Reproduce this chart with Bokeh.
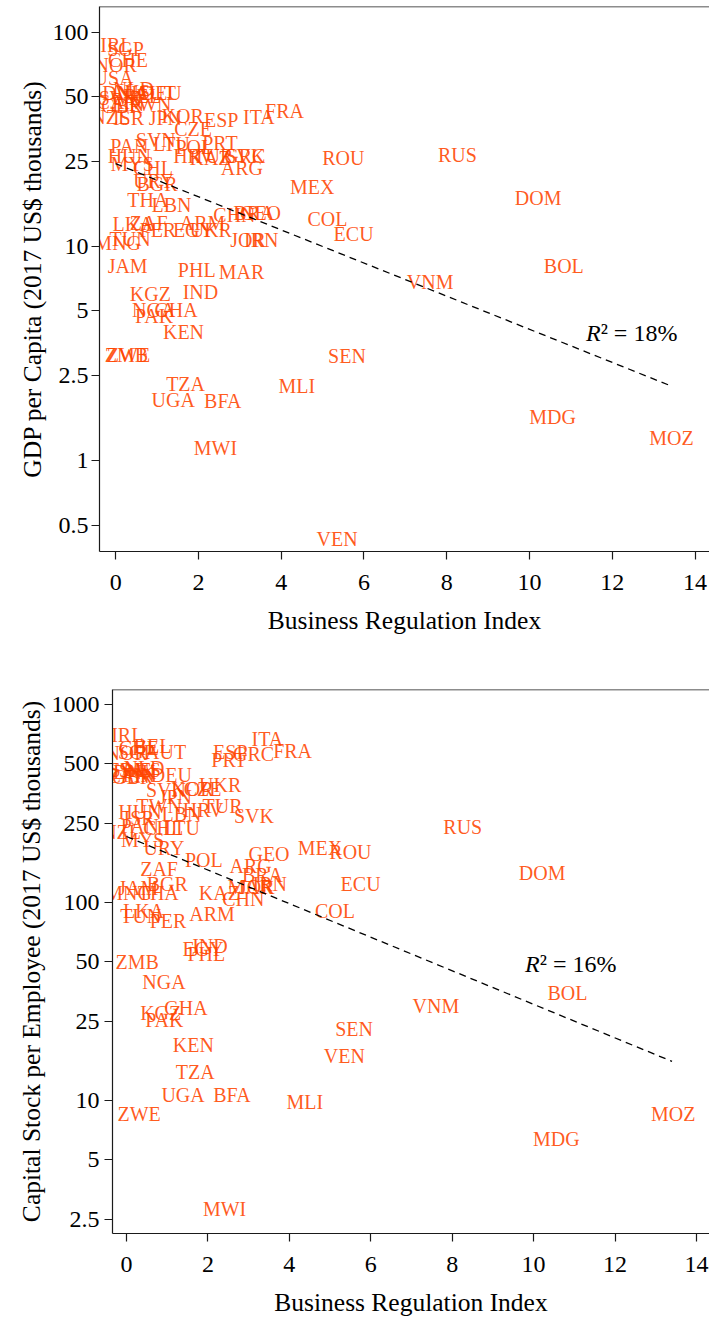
from bokeh.plotting import figure
from bokeh.layouts import column, row
from bokeh.models import FixedTicker, Span, ColumnDataSource, Range1d
from bokeh.core.properties import value
from bokeh.embed import file_html
from bokeh.resources import INLINE

countries = ["IRL", "SGP", "CHE", "NOR", "USA", "NLD", "AUT", "BEL", "DEU", "DNK",
             "SWE", "AUS", "FIN", "CAN", "GBR", "TWN", "NZL", "ISR", "JPN", "KOR",
             "CZE", "ESP", "PRT", "GRC", "ITA", "FRA", "SVN", "LTU", "POL", "PAN",
             "HUN", "HRV", "TUR", "SVK", "KAZ", "ARG", "RUS", "ROU", "MYS", "CHL",
             "URY", "BGR", "MEX", "DOM", "THA", "LBN", "CHN", "BRA", "GEO", "COL",
             "ECU", "LKA", "ZAF", "ARM", "PER", "EGY", "UKR", "TUN", "MNG", "JOR",
             "IRN", "JAM", "PHL", "MAR", "VNM", "BOL", "KGZ", "IND", "NGA", "GHA",
             "PAK", "KEN", "ZMB", "ZWE", "SEN", "TZA", "MLI", "UGA", "BFA", "MDG",
             "MOZ", "MWI", "VEN"]

business_regulation = [0.02, 0.24, 0.30, 0.00, -0.05, 0.43, 0.96, 0.64, 1.10, 0.20,
                       0.10, 0.35, 0.30, 0.05, 0.15, 0.80, -0.12, 0.31, 1.20, 1.62,
                       1.87, 2.55, 2.52, 3.12, 3.46, 4.08, 0.97, 1.35, 1.90, 0.33,
                       0.33, 1.88, 2.36, 3.13, 2.28, 3.05, 8.26, 5.50, 0.40, 0.90,
                       0.92, 1.00, 4.75, 10.21, 0.78, 1.35, 2.87, 3.34, 3.50, 5.12,
                       5.75, 0.42, 0.80, 2.10, 1.02, 1.88, 2.30, 0.35, 0.05, 3.20,
                       3.52, 0.29, 1.96, 3.04, 7.60, 10.83, 0.84, 2.05, 0.92, 1.46,
                       0.93, 1.64, 0.26, 0.31, 5.59, 1.69, 4.38, 1.39, 2.59, 10.56,
                       13.43, 2.41, 5.35]

gdp_per_capita = [87.9, 84.0, 74.8, 70.8, 61.6, 54.7, 51.9, 50.6, 51.9, 51.9,
                  49.6, 52.8, 46.1, 47.6, 45.6, 46.1, 40.1, 39.7, 40.0, 40.9,
                  35.6, 39.2, 30.6, 26.6, 40.5, 43.2, 31.6, 30.0, 29.3, 29.6,
                  26.6, 26.6, 26.6, 26.6, 25.8, 23.4, 26.9, 25.8, 24.4, 23.4,
                  20.3, 19.5, 18.9, 16.8, 16.5, 15.7, 14.0, 14.4, 14.4, 13.4,
                  11.4, 12.8, 12.9, 12.9, 12.0, 12.0, 12.0, 10.9, 10.4, 10.7,
                  10.7, 8.15, 7.8, 7.6, 6.8, 8.15, 5.97, 6.16, 5.08, 5.08,
                  4.76, 4.0, 3.13, 3.13, 3.09, 2.27, 2.24, 1.91, 1.89, 1.6,
                  1.27, 1.14, 0.432]

capital_per_employee = [698, 574, 600, 570, 466, 475, 574, 615, 440, 455,
                        466, 466, 440, 435, 430, 307, 227, 267, 341, 374,
                        374, 574, 524, 561, 667, 581, 370, 238, 164, 244,
                        287, 293, 307, 273, 112, 153, 241, 180, 207, 238,
                        189, 123, 187, 140, 112, 280, 103.5, 137, 176, 90,
                        124, 90, 147, 87, 80, 58, 392, 85, 112, 119,
                        124, 118, 55, 119, 30, 34.9, 27.7, 60, 39.6, 29.3,
                        25.5, 18.9, 49.9, 8.5, 22.8, 13.8, 9.8, 10.6, 10.6, 6.37,
                        8.5, 2.83, 16.8]

fit_x = [0.0, 13.4]
fit_gdp = [24.4, 2.24]
fit_capital = [215.0, 15.7]

r2_gdp = "18%"
r2_capital = "16%"

x_ticks = [0, 2, 4, 6, 8, 10, 12, 14]
gdp_ticks = [0.5, 1, 2.5, 5, 10, 25, 50, 100]
gdp_tick_labels = ["0.5", "1", "2.5", "5", "10", "25", "50", "100"]
capital_ticks = [2.5, 5, 10, 25, 50, 100, 250, 500, 1000]
capital_tick_labels = ["2.5", "5", "10", "25", "50", "100", "250", "500", "1000"]

FONT = "'Liberation Serif', 'DejaVu Serif', serif"
LABEL_COLOR = "#FF4500"
INK = "#1a1a1a"


def make_panel(yvals, ylabel, yticks, ytick_labels, xr, yr, fit_y, r2, r2_xy,
               width, height, border_left, border_top, border_bottom, ylab_standoff):
    p = figure(width=width, height=height,
               x_range=Range1d(*xr), y_range=Range1d(*yr), y_axis_type="log",
               output_backend="svg", toolbar_location=None,
               min_border_left=border_left, min_border_right=0,
               min_border_top=border_top, min_border_bottom=border_bottom)
    p.outline_line_color = None
    p.grid.visible = False
    p.background_fill_color = "white"

    src = ColumnDataSource(dict(x=business_regulation, y=yvals, label=countries))
    p.text(x="x", y="y", text="label", source=src,
           text_font=value(FONT), text_font_size="20px",
           text_align="center", text_baseline="middle",
           text_color=LABEL_COLOR, text_alpha=0.88)

    p.line(fit_x, fit_y, line_color="black", line_width=1.3, line_dash="7 5")

    p.text(x=[r2_xy[0]], y=[r2_xy[1]], text=["R"], text_font=value(FONT),
           text_font_style="italic", text_font_size="24px",
           text_align="right", text_baseline="middle", text_color="black")
    p.text(x=[r2_xy[0]], y=[r2_xy[1]], text=["\u00b2 = " + r2], text_font=value(FONT),
           text_font_size="24px", text_align="left", text_baseline="middle",
           text_color="black")

    p.add_layout(Span(location=yr[1], dimension="width", line_color=INK, line_width=1.5))

    for ax in (p.xaxis[0], p.yaxis[0]):
        ax.axis_line_color = INK
        ax.axis_line_width = 1.2
        ax.major_tick_line_color = INK
        ax.major_tick_line_width = 1.2
        ax.major_tick_out = 8
        ax.major_tick_in = 0
        ax.minor_tick_line_color = None
        ax.major_label_text_font = FONT
        ax.major_label_text_font_size = "24px"
        ax.major_label_text_color = "black"
        ax.axis_label_text_font = FONT
        ax.axis_label_text_font_size = "25.5px"
        ax.axis_label_text_font_style = "normal"
        ax.axis_label_text_color = "black"

    p.xaxis.ticker = FixedTicker(ticks=x_ticks, minor_ticks=[])
    p.xaxis.axis_label = "Business Regulation Index"
    p.xaxis.major_label_standoff = 15
    p.xaxis.axis_label_standoff = 13

    p.yaxis.ticker = FixedTicker(ticks=yticks, minor_ticks=[])
    p.yaxis.major_label_overrides = {float(t): s for t, s in zip(yticks, ytick_labels)}
    p.yaxis.axis_label = ylabel
    p.yaxis.major_label_standoff = ylab_standoff
    p.yaxis.axis_label_standoff = 3
    return p


p1 = make_panel(gdp_per_capita, "GDP per Capita (2017 US$ thousands)",
                gdp_ticks, gdp_tick_labels, (-0.39, 14.35), (0.376, 132.3),
                fit_gdp, r2_gdp, (11.72, 3.96), 709, 660, 99, 6, 109, 3)
p2 = make_panel(capital_per_employee, "Capital Stock per Employee (2017 US$ thousands)",
                capital_ticks, capital_tick_labels, (-0.344, 14.32), (2.12, 1189),
                fit_capital, r2_capital, (10.15, 48.7), 709, 659, 112, 29, 83, 5)

layout = column(p1, row(p2), spacing=0)
open("out.html", "w").write(file_html(layout, INLINE))
